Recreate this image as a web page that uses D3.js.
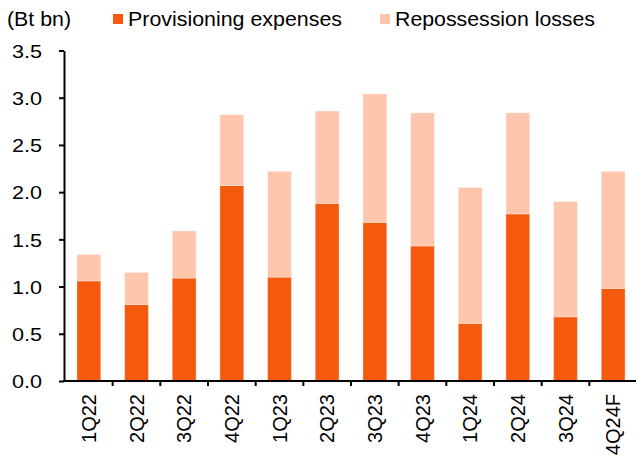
<!DOCTYPE html>
<html>
<head>
<meta charset="utf-8">
<script src="https://cdn.jsdelivr.net/npm/d3@7"></script>
<style>
  html, body { margin: 0; padding: 0; background: #fff; }
  svg { display: block; }
  text { font-family: "Liberation Sans", Arial, sans-serif; fill: #000; }
</style>
</head>
<body>
<svg id="chart" width="636" height="459"></svg>
<script>
const categories = ["1Q22","2Q22","3Q22","4Q22","1Q23","2Q23","3Q23","4Q23","1Q24","2Q24","3Q24","4Q24F"];
const provisioning = [1.06, 0.81, 1.09, 2.07, 1.10, 1.88, 1.68, 1.43, 0.61, 1.77, 0.68, 0.98];
const repossession = [0.28, 0.34, 0.50, 0.75, 1.12, 0.98, 1.36, 1.41, 1.44, 1.07, 1.22, 1.24];
const seriesNames = ["Provisioning expenses", "Repossession losses"];
const yTicks = [0, 0.5, 1.0, 1.5, 2.0, 2.5, 3.0, 3.5];
const yUnit = "(Bt bn)";
const colors = ["#F4590D", "#FFC5AD"];

const svg = d3.select("#chart");

const x = d3.scaleBand().domain(categories).range([65, 637]).paddingInner(0.5).paddingOuter(0.25);
const y = d3.scaleLinear().domain([0, 3.5]).range([381, 50.5]);

const rows = categories.map((c, i) => ({ cat: c, prov: provisioning[i], repo: repossession[i] }));
const stack = d3.stack().keys(["prov", "repo"])(rows);

svg.append("g").selectAll("g")
  .data(stack)
  .join("g")
  .attr("fill", (d, i) => colors[i])
  .selectAll("rect")
  .data(d => d)
  .join("rect")
  .attr("x", d => x(d.data.cat))
  .attr("width", x.bandwidth())
  .attr("y", d => y(d[1]))
  .attr("height", d => y(d[0]) - y(d[1]))
  .attr("stroke", "rgba(255,255,255,0.35)")
  .attr("stroke-width", 1);

// Y axis
const yAxis = svg.append("g")
  .attr("transform", "translate(64,0)")
  .call(d3.axisLeft(y).tickValues(yTicks).tickFormat(d3.format(".1f")).tickSize(5).tickSizeOuter(0));
yAxis.select(".domain").attr("stroke", "#000").attr("stroke-width", 2);
yAxis.selectAll(".tick line").attr("stroke", "#000").attr("stroke-width", 2);
yAxis.selectAll(".tick text")
  .attr("x", -22)
  .attr("dy", "0.35em")
  .attr("textLength", 30)
  .attr("lengthAdjust", "spacingAndGlyphs")
  .style("font-size", "19px")
  .style("font-family", "'Liberation Sans', Arial, sans-serif")
  .attr("fill", "#000");

// X axis
const xAxis = svg.append("g")
  .attr("transform", "translate(0,381)")
  .call(d3.axisBottom(x).tickSize(0).tickSizeOuter(0));
xAxis.select(".domain").attr("stroke", "#000").attr("stroke-width", 2)
  .attr("d", "M63,0H636");
xAxis.selectAll(".tick text")
  .attr("transform", "rotate(-90)")
  .attr("x", -13)
  .attr("y", 0)
  .attr("dy", "0.35em")
  .attr("text-anchor", "end")
  .style("font-size", "20px")
  .style("font-family", "'Liberation Sans', Arial, sans-serif")
  .attr("fill", "#000");

// X boundary ticks
const step = x.step();
const boundaries = categories.slice(1).map(c => x(c) - (step - x.bandwidth()) / 2);
svg.append("g").selectAll("line")
  .data(boundaries)
  .join("line")
  .attr("x1", d => d).attr("x2", d => d)
  .attr("y1", 381).attr("y2", 386)
  .attr("stroke", "#000").attr("stroke-width", 2);

// Unit label
svg.append("text")
  .attr("x", 7).attr("y", 26)
  .attr("textLength", 64)
  .attr("lengthAdjust", "spacingAndGlyphs")
  .style("font-size", "20px")
  .text(yUnit);

// Legend
const legendPos = [{ sx: 113, tx: 128, w: 214 }, { sx: 380, tx: 395, w: 200 }];
const lg = svg.append("g");
seriesNames.forEach((name, i) => {
  lg.append("rect")
    .attr("x", legendPos[i].sx).attr("y", 14)
    .attr("width", 10).attr("height", 10)
    .attr("fill", colors[i]);
  lg.append("text")
    .attr("x", legendPos[i].tx).attr("y", 26)
    .attr("textLength", legendPos[i].w)
    .attr("lengthAdjust", "spacingAndGlyphs")
    .style("font-size", "20px")
    .text(name);
});
</script>
</body>
</html>
